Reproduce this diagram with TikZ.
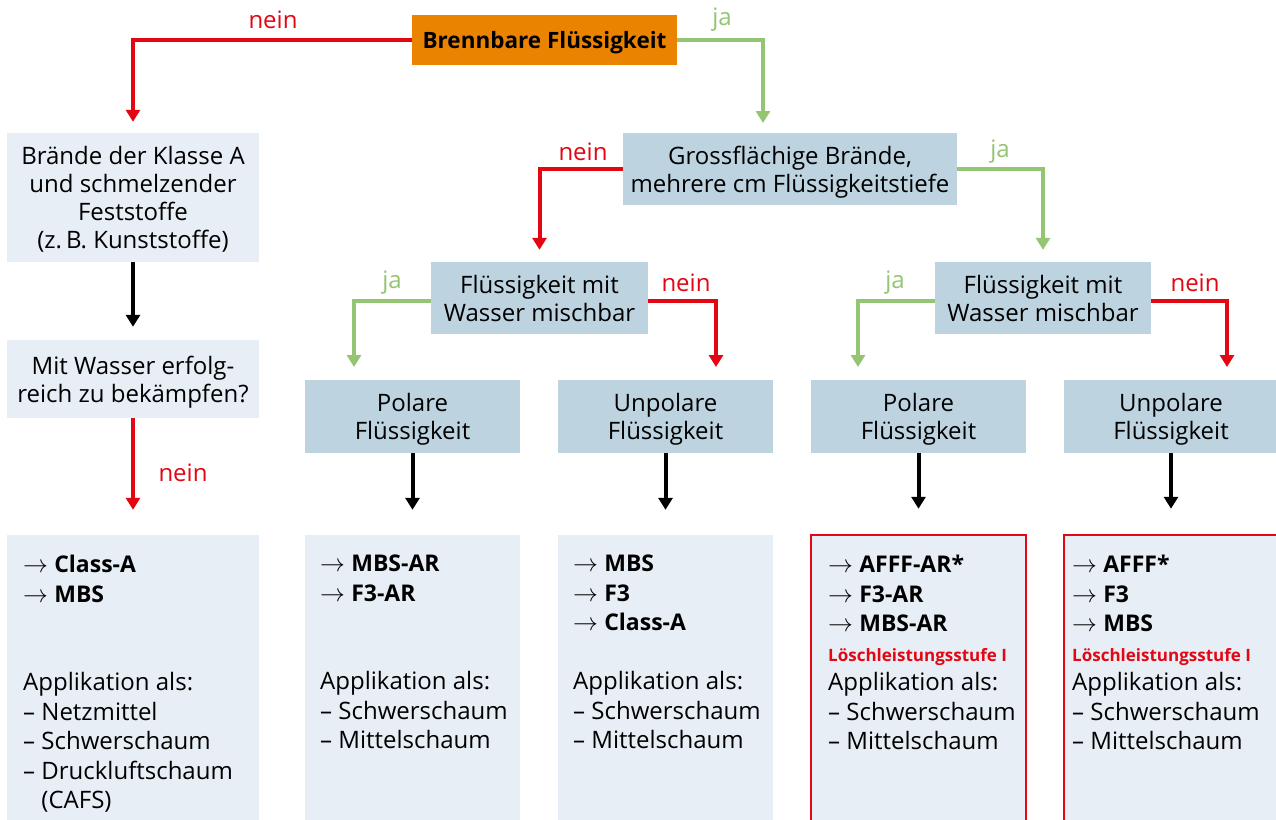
\documentclass[tikz,border=0pt]{standalone}
\usepackage{fontspec}
\setmainfont{Open Sans}
\usetikzlibrary{arrows.meta}
\definecolor{orng}{HTML}{E98300}
\definecolor{boxb}{HTML}{BDD3E0}
\definecolor{boxl}{HTML}{E7EEF5}
\definecolor{rd}{HTML}{E30613}
\definecolor{gr}{HTML}{93C572}
\newcommand{\itm}[1]{$\rightarrow$ {\fontsize{23}{29.5}\selectfont\bfseries #1}}
\newcommand{\lsst}{{\fontsize{17}{29.5}\selectfont\bfseries\color{rd}Löschleistungsstufe I}}
\begin{document}
\begin{tikzpicture}[x=1pt,y=-1pt,
  txt/.style={font=\fontsize{24}{28}\selectfont},
  sbox/.style 2 args={draw=none,inner sep=0pt,minimum width=#1,minimum height=#2,align=center,text depth=0pt,txt},
  darkbox/.style={fill=boxb},
  lightbox/.style={fill=boxl},
  conn/.style={line width=4pt,-{Triangle[width=14pt,length=12pt]}},
  redc/.style={conn,draw=rd},
  grc/.style={conn,draw=gr},
  blc/.style={conn,draw=black},
  lbl/.style={txt,inner sep=0pt},
  list/.style={font=\fontsize{24}{29.5}\selectfont,anchor=north west,align=left,inner sep=0pt},
  redframe/.style={draw=rd,line width=2.5pt}
]
\useasboundingbox (0,0) rectangle (1276,819);
\fill[white] (0,0) rectangle (1276,819);

% top
\node[sbox={265pt}{50pt},fill=orng,font=\fontsize{22.5}{28}\selectfont\bfseries] (top) at (544.5,40) {Brennbare Flüssigkeit};

% left column
\node[sbox={252pt}{129pt},lightbox] (kla) at (133,197.5) {Brände der Klasse A\\und schmelzender\\Feststoffe\\(z.\,B. Kunststoffe)};
\node[sbox={252pt}{78pt},lightbox] (mit) at (133,379) {Mit Wasser erfolg-\\reich zu bekämpfen?};

% second level
\node[sbox={334pt}{72pt},darkbox] (gross) at (790,169) {Grossflächige Brände,\\mehrere cm Flüssigkeitstiefe};
\node[sbox={217pt}{72pt},darkbox] (mischL) at (539.5,298) {Flüssigkeit mit\\Wasser mischbar};
\node[sbox={216pt}{72pt},darkbox] (mischR) at (1043,298) {Flüssigkeit mit\\Wasser mischbar};

% third level
\node[sbox={215pt}{73pt},darkbox] (p1) at (412.5,416.5) {Polare\\Flüssigkeit};
\node[sbox={215pt}{73pt},darkbox] (u1) at (665.5,416.5) {Unpolare\\Flüssigkeit};
\node[sbox={215pt}{73pt},darkbox] (p2) at (918.5,416.5) {Polare\\Flüssigkeit};
\node[sbox={214pt}{73pt},darkbox] (u2) at (1171,416.5) {Unpolare\\Flüssigkeit};

% bottom boxes
\node[sbox={252pt}{295pt},lightbox] (b0) at (133,682.5) {};
\node[sbox={215pt}{295pt},lightbox] (b1) at (412.5,682.5) {};
\node[sbox={215pt}{295pt},lightbox] (b2) at (665.5,682.5) {};
\node[sbox={215pt}{295pt},lightbox,redframe] (b3) at (918.5,682.5) {};
\node[sbox={214pt}{295pt},lightbox,redframe] (b4) at (1171,682.5) {};

% bottom texts
\node[list] (t0) at (23,555) {\itm{Class-A}\\\itm{MBS}\\[59pt]Applikation als:\\– Netzmittel\\– Schwerschaum\\– Druckluftschaum\\\phantom{– }(CAFS)};
\node[list] (t1) at (320,555) {\itm{MBS-AR}\\\itm{F3-AR}\\[59pt]Applikation als:\\– Schwerschaum\\– Mittelschaum};
\node[list] (t2) at (573,555) {\itm{MBS}\\\itm{F3}\\\itm{Class-A}\\[29.5pt]Applikation als:\\– Schwerschaum\\– Mittelschaum};
\node[list] (t3) at (828,555) {\itm{AFFF-AR*}\\\itm{F3-AR}\\\itm{MBS-AR}\\\lsst\\Applikation als:\\– Schwerschaum\\– Mittelschaum};
\node[list] (t4) at (1072,555) {\itm{AFFF*}\\\itm{F3}\\\itm{MBS}\\\lsst\\Applikation als:\\– Schwerschaum\\– Mittelschaum};

% arrow target coordinates
\coordinate (c1) at (763,123);
\coordinate (c2) at (354,367);
\coordinate (c3) at (716,367);
\coordinate (c4) at (858,367);
\coordinate (c5) at (1227,367);

% connectors
\draw[redc,shorten >=11pt] (top.west) -| (kla.north);
\draw[grc] (top.east) -| (c1);
\draw[blc,shorten >=13pt] (kla.south) -- (mit.north);
\draw[redc,shorten >=25pt] (mit.south) -- (b0.north);
\draw[redc,shorten >=12pt] (gross.west) -| (mischL.north);
\draw[grc,shorten >=12pt] (gross.east) -| (mischR.north);
\draw[grc] ([yshift=-3pt]mischL.west) -| (c2);
\draw[redc] ([yshift=-3pt]mischL.east) -| (c3);
\draw[grc] ([yshift=-3pt]mischR.west) -| (c4);
\draw[redc] ([yshift=-3pt]mischR.east) -| (c5);
\draw[blc,shorten >=25pt] (p1.south) -- (b1.north);
\draw[blc,shorten >=25pt] (u1.south) -- (b2.north);
\draw[blc,shorten >=25pt] (p2.south) -- (b3.north);
\draw[blc,shorten >=25pt] (u2.south) -- (b4.north);

% labels
\node[lbl,text=rd] (l1) at (273,20) {nein};
\node[lbl,text=gr] (l2) at (722,20) {ja};
\node[lbl,text=rd] (l3) at (583,152) {nein};
\node[lbl,text=gr] (l4) at (1000,152) {ja};
\node[lbl,text=gr] (l5) at (392,283) {ja};
\node[lbl,text=rd] (l6) at (686,283) {nein};
\node[lbl,text=gr] (l7) at (895,283) {ja};
\node[lbl,text=rd] (l8) at (1195,283) {nein};
\node[lbl,text=rd] (l9) at (183,473) {nein};
\end{tikzpicture}
\end{document}
